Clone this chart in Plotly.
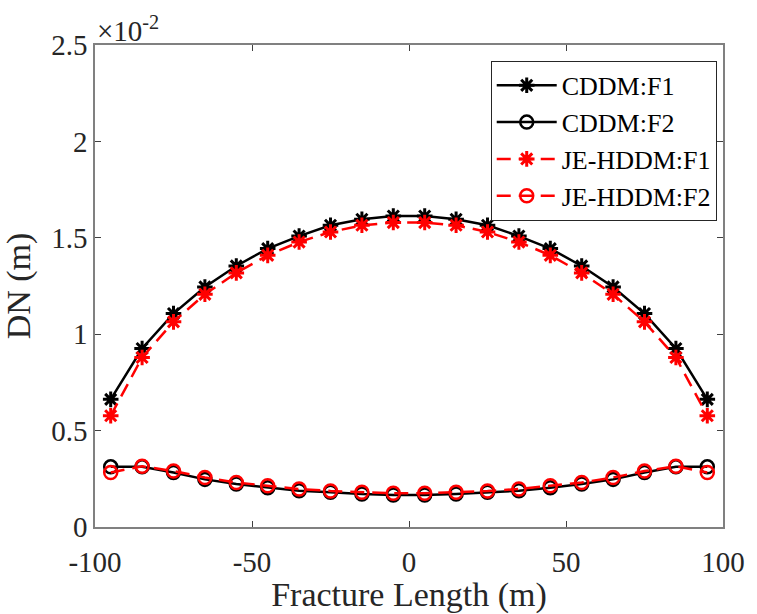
import plotly.graph_objects as go

# Fracture positions (m)
x_pos = [-95, -85, -75, -65, -55, -45, -35, -25, -15, -5,
         5, 15, 25, 35, 45, 55, 65, 75, 85, 95]

# DN values in units of 1e-2 m
cddm_f1 = [0.662, 0.926, 1.107, 1.245, 1.354, 1.444, 1.509, 1.565, 1.596, 1.613,
           1.613, 1.596, 1.565, 1.509, 1.444, 1.354, 1.245, 1.107, 0.926, 0.662]
cddm_f2 = [0.312, 0.312, 0.283, 0.247, 0.223, 0.204, 0.188, 0.180, 0.171, 0.166,
           0.166, 0.171, 0.180, 0.188, 0.204, 0.223, 0.247, 0.283, 0.312, 0.312]
je_f1 = [0.577, 0.879, 1.064, 1.207, 1.318, 1.409, 1.478, 1.530, 1.565, 1.579,
         1.579, 1.565, 1.530, 1.478, 1.409, 1.318, 1.207, 1.064, 0.879, 0.577]
je_f2 = [0.283, 0.315, 0.290, 0.257, 0.231, 0.214, 0.197, 0.187, 0.180, 0.175,
         0.175, 0.180, 0.187, 0.197, 0.214, 0.231, 0.257, 0.290, 0.315, 0.283]

x_ticks = [-100, -50, 0, 50, 100]
x_tick_text = ["-100", "-50", "0", "50", "100"]
y_ticks = [0, 0.5, 1, 1.5, 2, 2.5]
y_tick_text = ["0", "0.5", "1", "1.5", "2", "2.5"]

FONT = "Liberation Serif"
TXT = "#262626"

fig = go.Figure()
fig.add_trace(go.Scatter(x=x_pos, y=cddm_f1, name="CDDM:F1", mode="lines+markers",
                         line=dict(color="black", width=2.5),
                         marker=dict(symbol="asterisk-open", size=13, color="black",
                                     line=dict(color="black", width=3))))
fig.add_trace(go.Scatter(x=x_pos, y=cddm_f2, name="CDDM:F2", mode="lines+markers",
                         line=dict(color="black", width=2.5),
                         marker=dict(symbol="circle-open", size=13, color="black",
                                     line=dict(color="black", width=2.5))))
fig.add_trace(go.Scatter(x=x_pos, y=je_f1, name="JE-HDDM:F1", mode="lines+markers",
                         line=dict(color="red", width=2.5, dash="14px,8px"),
                         marker=dict(symbol="asterisk-open", size=13, color="red",
                                     line=dict(color="red", width=3))))
fig.add_trace(go.Scatter(x=x_pos, y=je_f2, name="JE-HDDM:F2", mode="lines+markers",
                         line=dict(color="red", width=2.5, dash="14px,8px"),
                         marker=dict(symbol="circle-open", size=13, color="red",
                                     line=dict(color="red", width=2.5))))

axis_common = dict(showgrid=False, zeroline=False, showline=True, linecolor="#808080",
                   linewidth=1.5, mirror="ticks", ticks="inside", ticklen=6,
                   tickcolor="#404040", tickwidth=1,
                   tickfont=dict(family=FONT, size=29, color=TXT))

fig.update_xaxes(range=[-100, 100], tickvals=x_ticks, ticktext=x_tick_text,
                 ticklabelstandoff=8, **axis_common,
                 title=dict(text="Fracture Length (m)", standoff=0,
                            font=dict(family=FONT, size=34, color=TXT)))
fig.update_yaxes(range=[0, 2.5], tickvals=y_ticks, ticktext=y_tick_text, **axis_common,
                 title=dict(text="DN (m)", standoff=10,
                            font=dict(family=FONT, size=34, color=TXT)))

fig.add_annotation(xref="paper", yref="paper", x=0.0, y=1.0, xanchor="left", yanchor="bottom",
                   text="×10<sup>-2</sup>", showarrow=False,
                   font=dict(family=FONT, size=29, color=TXT), yshift=-4)

fig.update_layout(
    width=757, height=614,
    margin=dict(l=95, r=23, t=45, b=87),
    plot_bgcolor="white", paper_bgcolor="white",
    font=dict(family=FONT, color=TXT),
    legend=dict(x=0.99, y=0.967, xanchor="right", yanchor="top",
                bordercolor=TXT, borderwidth=1, bgcolor="white",
                font=dict(family=FONT, size=26, color="black"),
                itemwidth=60, tracegroupgap=0),
    showlegend=True,
)

fig.write_html("out.html")
